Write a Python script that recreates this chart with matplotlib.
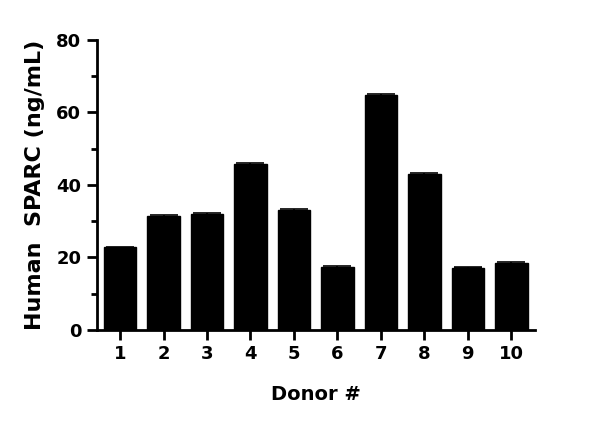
import matplotlib
matplotlib.use("Agg")
import matplotlib.pyplot as plt
import numpy as np

plt.rcParams['font.family'] = ['DejaVu Sans']
plt.rcParams['font.weight'] = 'bold'

# data
donors = ['1', '2', '3', '4', '5', '6', '7', '8', '9', '10']
sparc = [22.8, 31.5, 32.0, 45.8, 33.1, 17.4, 64.7, 43.0, 17.2, 18.4]
sparc_err = [0.2, 0.3, 0.2, 0.2, 0.3, 0.3, 0.4, 0.2, 0.2, 0.3]


def plot_data():
    fig = plt.figure(figsize=(6, 4.28), dpi=100)
    ax = fig.add_axes([0.161, 0.229, 0.731, 0.678])

    x = np.arange(1, len(donors) + 1)
    ax.bar(x, sparc, width=0.75, color='black', edgecolor='black',
           yerr=sparc_err, error_kw=dict(ecolor='black', elinewidth=1.2, capsize=10, capthick=1.2))

    ax.set_xlim(0.46, 10.55)
    ax.set_ylim(0, 80)
    ax.set_xticks(x)
    ax.set_xticklabels(donors)
    ax.set_yticks([0, 20, 40, 60, 80])
    ax.set_yticks([10, 30, 50, 70], minor=True)

    for s in ['top', 'right']:
        ax.spines[s].set_visible(False)
    for s in ['left', 'bottom']:
        ax.spines[s].set_linewidth(2)

    ax.tick_params(axis='both', which='major', length=7, width=2, labelsize=13, pad=4)
    ax.tick_params(axis='y', which='minor', length=4, width=2)

    ax.set_xlabel('Donor #', fontsize=14, fontweight='bold', labelpad=16)
    ax.set_ylabel('Human  SPARC (ng/mL)', fontsize=16, fontweight='bold', labelpad=8)

    fig.savefig('out.png', dpi=100)


if __name__ == "__main__":
    plot_data()
